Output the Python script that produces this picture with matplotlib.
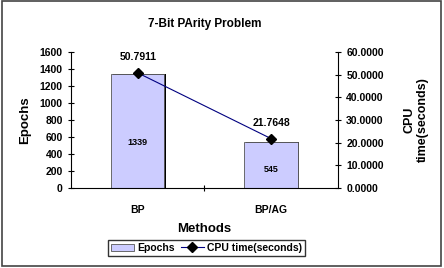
import numpy as np
import matplotlib.pyplot as plt
from matplotlib.patches import Rectangle

methods = ['BP', 'BP/AG']
epochs = [1339, 545]
cpu_time = [50.7911, 21.7648]

plt.rcParams['font.family'] = ['Liberation Sans', 'DejaVu Sans']
plt.rcParams['font.weight'] = 'bold'
plt.rcParams['axes.titleweight'] = 'bold'
plt.rcParams['axes.labelweight'] = 'bold'

fig = plt.figure(figsize=(4.44, 2.68), dpi=100)
ax = fig.add_axes([0.160, 0.2985, 0.601, 0.5075])
x = np.arange(len(methods))

# bar shadow on the right edge
ax.bar(x + 0.012, epochs, 0.4, color='black', zorder=1)
bars = ax.bar(x, epochs, 0.4, color='#CCCCFF', edgecolor='#555555', linewidth=0.6,
              label='Epochs', zorder=2)
for xi, v in zip(x, epochs):
    ax.text(xi, v * 0.4, str(v), ha='center', va='center', fontsize=6.5, zorder=3)

ax.set_xlim(-0.5, 1.5)
ax.set_ylim(0, 1600)
ax.set_yticks(range(0, 1601, 200))
ax.set_xticks(x)
ax.set_xticklabels(methods, fontsize=7.5)
ax.tick_params(axis='y', labelsize=7.5, direction='inout', length=5, width=0.8)
ax.tick_params(axis='x', length=0, pad=12)
ax.set_xticks([0.5], minor=True)
ax.tick_params(axis='x', which='minor', direction='inout', length=5, width=0.8)
for s in ['top', 'right']:
    ax.spines[s].set_visible(False)
ax.spines['left'].set_linewidth(0.8)
ax.spines['bottom'].set_linewidth(0.8)
ax.set_ylabel('Epochs', fontsize=9.5, labelpad=6)
ax.set_xlabel('Methods', fontsize=9.5, labelpad=6)
ax.set_title('7-Bit PArity Problem', fontsize=8.5, pad=18)

ax2 = ax.twinx()
line, = ax2.plot(x, cpu_time, color='#000080', linewidth=0.8, marker='D',
                 markersize=5, markerfacecolor='black', markeredgecolor='black',
                 label='CPU time(seconds)')
ax2.set_ylim(0, 60)
ax2.set_yticks(range(0, 61, 10))
ax2.set_yticklabels([f'{t:.4f}' for t in range(0, 61, 10)], fontsize=7.5)
ax2.tick_params(axis='y', direction='inout', length=5, width=0.8)
for s in ['top', 'left', 'bottom']:
    ax2.spines[s].set_visible(False)
ax2.spines['right'].set_linewidth(0.8)
ax2.set_ylabel('CPU\ntime(seconds)', fontsize=9, labelpad=14)
for xi, v in zip(x, cpu_time):
    ax2.annotate(f'{v:.4f}', (xi, v), xytext=(0, 8), textcoords='offset points',
                 ha='center', va='bottom', fontsize=7.5)

fig.legend([bars, line], ['Epochs', 'CPU time(seconds)'], loc='center',
           bbox_to_anchor=(0.465, 0.075), ncol=2, fontsize=7.5, frameon=True,
           fancybox=False, edgecolor='black', handlelength=2.2, handletextpad=0.3,
           columnspacing=0.6, borderpad=0.3)

fig.patches.append(Rectangle((0.004, 0.006), 0.99, 0.99, transform=fig.transFigure,
                             fill=False, edgecolor='#444444', linewidth=1.2))

fig.savefig('out.png', dpi=100)
